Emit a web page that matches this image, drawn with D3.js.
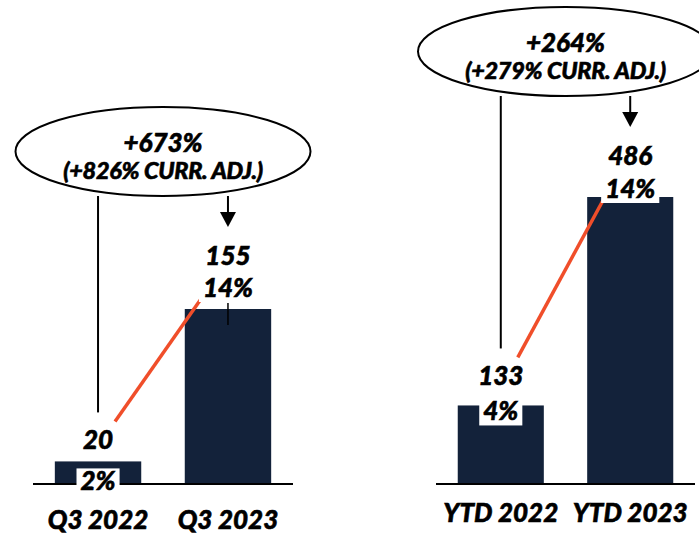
<!DOCTYPE html>
<html>
<head>
<meta charset="utf-8">
<script src="https://cdn.jsdelivr.net/npm/d3@7"></script>
<style>
  html, body { margin: 0; padding: 0; background: #fff; }
  svg { display: block; }
  text { font-family: "Lato", "Open Sans", sans-serif; font-style: italic; font-weight: 900; fill: #000; stroke: #000; stroke-width: 0.6px; }
</style>
</head>
<body>
<svg id="chart" width="699" height="536"></svg>
<script>
// Quarterly panel
const quarterCategories = ["Q3 2022", "Q3 2023"];
const quarterValues = [20, 155];
const quarterShares = ["2%", "14%"];
const quarterGrowth = "+673%";
const quarterGrowthAdj = "(+826% CURR. ADJ.)";

// Year-to-date panel
const ytdCategories = ["YTD 2022", "YTD 2023"];
const ytdValues = [133, 486];
const ytdShares = ["4%", "14%"];
const ytdGrowth = "+264%";
const ytdGrowthAdj = "(+279% CURR. ADJ.)";

const svg = d3.select("#chart");
const BAR = "#13223a";
const ORANGE = "#f04e2a";

const panels = [
  {
    cats: quarterCategories, vals: quarterValues, shares: quarterShares,
    growth: quarterGrowth, adj: quarterGrowthAdj,
    xRange: [33, 293], base: 484, maxPx: 309, catY: 529,
    shareOff: [29, -12], valGap: [41, 32]
  },
  {
    cats: ytdCategories, vals: ytdValues, shares: ytdShares,
    growth: ytdGrowth, adj: ytdGrowthAdj,
    xRange: [436, 695], base: 484, maxPx: 197, catY: 522,
    shareOff: [15, 1], valGap: [35, 33]
  }
];

panels.forEach(p => {
  const g = svg.append("g");
  const x = d3.scaleBand().domain(p.cats).range(p.xRange)
    .paddingInner(0.335).paddingOuter(0.168);
  const y = d3.scaleLinear().domain([0, d3.max(p.vals)]).range([p.base, p.maxPx]);
  const cx = c => x(c) + x.bandwidth() / 2;

  // bars
  g.selectAll("rect.bar").data(p.cats).join("rect")
    .attr("class", "bar")
    .attr("x", d => x(d)).attr("width", x.bandwidth())
    .attr("y", (d, i) => y(p.vals[i]))
    .attr("height", (d, i) => y(0) - y(p.vals[i]))
    .attr("fill", BAR);

  // baseline
  g.append("line")
    .attr("x1", p.xRange[0]).attr("x2", p.xRange[1])
    .attr("y1", y(0)).attr("y2", y(0))
    .attr("stroke", "#000").attr("stroke-width", 2);

  // label anchors
  const shareY = p.cats.map((c, i) => y(p.vals[i]) + p.shareOff[i]);
  const valY = shareY.map((s, i) => s - p.valGap[i]);
  const x1 = cx(p.cats[0]), x2 = cx(p.cats[1]);

  // margin trend line
  g.append("line")
    .attr("x1", x1 + 17).attr("y1", valY[0] - 28)
    .attr("x2", x2 - 27).attr("y2", shareY[1] + 2)
    .attr("stroke", ORANGE).attr("stroke-width", 3.5);

  // growth bubble
  const ry = 44.5, rx = 147.5;
  const ecx = (x1 + x2) / 2;
  const eBottom = valY[1] - 69;
  const ecy = eBottom - ry;

  g.append("line")
    .attr("x1", x1).attr("x2", x1)
    .attr("y1", eBottom).attr("y2", valY[0] - 37)
    .attr("stroke", "#000").attr("stroke-width", 2);

  const tip = valY[1] - 38;
  g.append("line")
    .attr("x1", x2).attr("x2", x2)
    .attr("y1", eBottom).attr("y2", tip - 10)
    .attr("stroke", "#000").attr("stroke-width", 2);
  g.append("path")
    .attr("d", `M${x2 - 8},${tip - 15}L${x2 + 8},${tip - 15}L${x2},${tip}Z`)
    .attr("fill", "#000");

  g.append("ellipse")
    .attr("cx", ecx).attr("cy", ecy).attr("rx", rx).attr("ry", ry)
    .attr("fill", "#fff").attr("stroke", "#000").attr("stroke-width", 2);

  g.append("text").attr("x", ecx).attr("y", ecy)
    .attr("text-anchor", "middle").attr("font-size", 26).text(p.growth);
  g.append("text").attr("x", ecx).attr("y", ecy + 27)
    .attr("text-anchor", "middle").attr("font-size", 23.5)
    .attr("letter-spacing", -0.3).text(p.adj);

  // value labels
  p.cats.forEach((c, i) => {
    g.append("text").attr("x", cx(c)).attr("y", valY[i])
      .attr("text-anchor", "middle").attr("font-size", 26).text(p.vals[i]);

    const t = g.append("text").attr("x", cx(c)).attr("y", shareY[i])
      .attr("text-anchor", "middle").attr("font-size", 26).text(p.shares[i]);
    const bb = t.node().getBBox();
    g.insert("rect", () => t.node())
      .attr("x", bb.x - 4).attr("width", bb.width + 8)
      .attr("y", shareY[i] - 22).attr("height", 27)
      .attr("fill", "#fff");
  });

  // small tick under the taller bar's label
  if (p.shareOff[1] < 0) {
    g.append("line")
      .attr("x1", x2).attr("x2", x2)
      .attr("y1", y(p.vals[1]) - 6).attr("y2", y(p.vals[1]) + 16)
      .attr("stroke", "#000").attr("stroke-width", 1.5);
  }

  // category labels
  g.selectAll("text.cat").data(p.cats).join("text")
    .attr("class", "cat")
    .attr("x", d => cx(d)).attr("y", p.catY)
    .attr("text-anchor", "middle").attr("font-size", 26).text(d => d);
});
</script>
</body>
</html>
